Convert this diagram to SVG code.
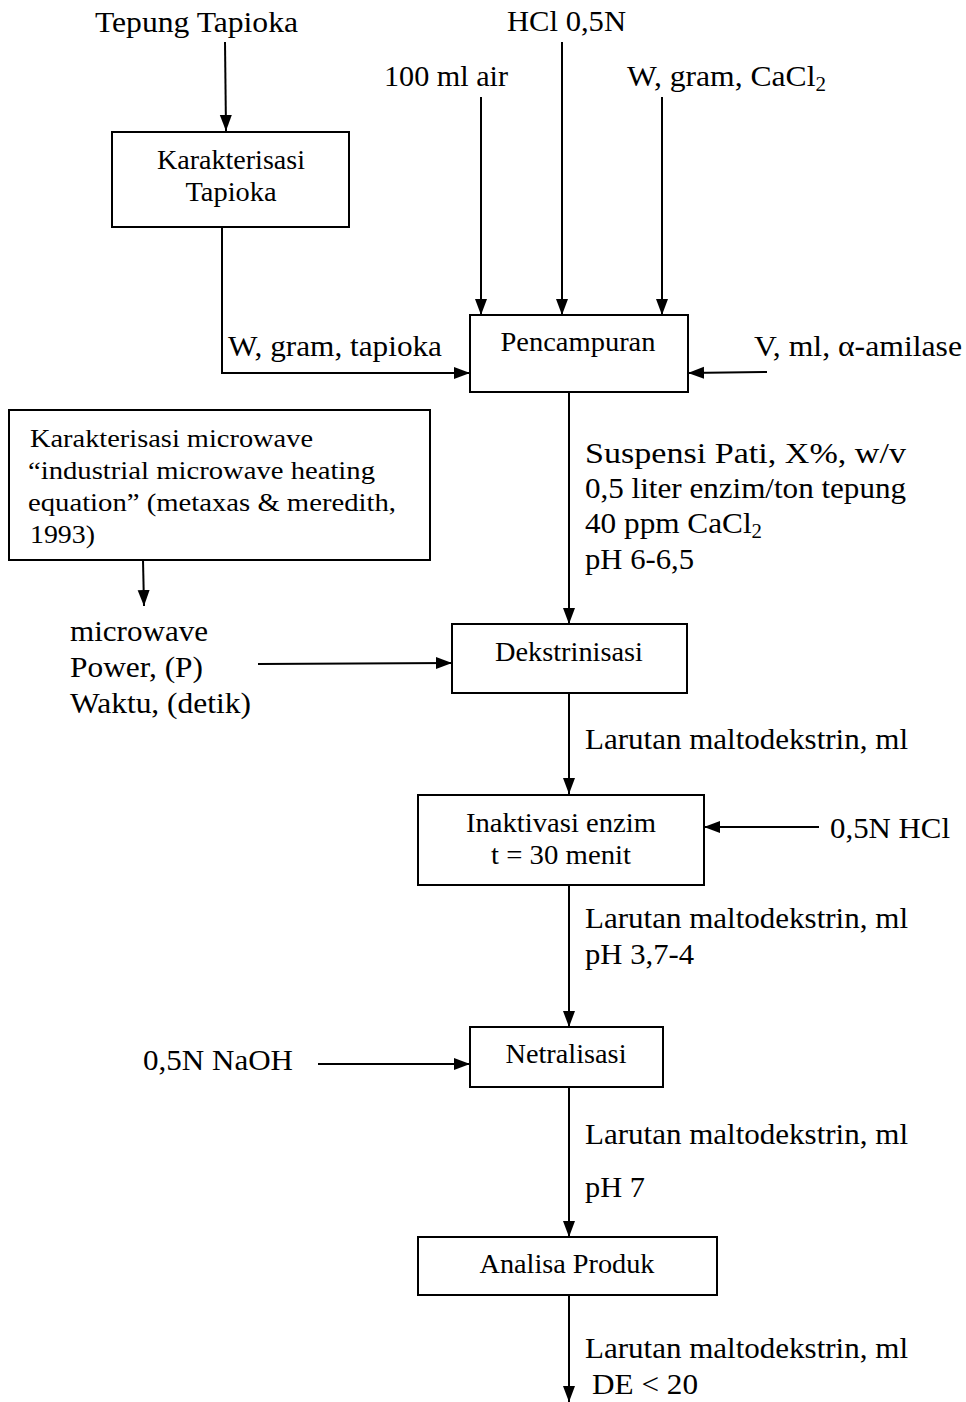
<svg xmlns="http://www.w3.org/2000/svg" width="966" height="1402" viewBox="0 0 966 1402">
<defs>
<marker id="ah" markerUnits="userSpaceOnUse" markerWidth="16" markerHeight="14" viewBox="0 0 16 14" refX="16" refY="7" orient="auto">
<path d="M0,1 L16,7 L0,13 Z" fill="#000"/>
</marker>
</defs>
<style>
text{font-family:"Liberation Serif","Times New Roman",serif;fill:#000}
.o{font-size:30px}
.b{font-size:27px}
.m{font-size:26px}
.c{text-anchor:middle}
rect{fill:#fff;stroke:#000;stroke-width:2}
.conn line,.conn polyline{stroke:#000;stroke-width:2;fill:none}
.a{marker-end:url(#ah)}
</style>
<rect x="0" y="0" width="966" height="1402" style="stroke:none"/>
<g class="conn">
<line class="a" x1="225" y1="42" x2="226" y2="131"/>
<polyline class="a" points="222,227 222,373 470,373"/>
<line class="a" x1="481" y1="97" x2="481" y2="315"/>
<line class="a" x1="562" y1="42" x2="562" y2="315"/>
<line class="a" x1="662" y1="97" x2="662" y2="315"/>
<line class="a" x1="767" y1="372" x2="688" y2="373"/>
<line class="a" x1="569" y1="392" x2="569" y2="624"/>
<line class="a" x1="143" y1="560" x2="144" y2="606"/>
<line class="a" x1="258" y1="664" x2="452" y2="663"/>
<line class="a" x1="569" y1="693" x2="569" y2="794"/>
<line class="a" x1="819" y1="827" x2="704" y2="827"/>
<line class="a" x1="569" y1="885" x2="569" y2="1027"/>
<line class="a" x1="318" y1="1064" x2="470" y2="1064"/>
<line class="a" x1="569" y1="1087" x2="569" y2="1237"/>
<line class="a" x1="569" y1="1295" x2="569" y2="1402"/>
</g>
<g id="tepung"><text class="o" x="95" y="32" textLength="203" lengthAdjust="spacingAndGlyphs">Tepung Tapioka</text></g>
<g id="hcl-top"><text class="o" x="507" y="31" textLength="119" lengthAdjust="spacingAndGlyphs">HCl 0,5N</text></g>
<g id="air"><text class="o" x="384" y="86" textLength="124" lengthAdjust="spacingAndGlyphs">100 ml air</text></g>
<g id="cacl2"><text class="o" x="627" y="86" textLength="199" lengthAdjust="spacingAndGlyphs">W, gram, CaCl<tspan font-size="20" dy="5">2</tspan></text></g>
<g id="karakterisasi-tapioka">
<rect x="112" y="132" width="237" height="95"/>
<text class="b c" x="231" y="169" textLength="148" lengthAdjust="spacingAndGlyphs">Karakterisasi</text>
<text class="b c" x="231" y="201" textLength="91" lengthAdjust="spacingAndGlyphs">Tapioka</text>
</g>
<g id="tapioka-label"><text class="o" x="228" y="356" textLength="214" lengthAdjust="spacingAndGlyphs">W, gram, tapioka</text></g>
<g id="pencampuran">
<rect x="470" y="315" width="218" height="77"/>
<text class="b c" x="578" y="351" textLength="155" lengthAdjust="spacingAndGlyphs">Pencampuran</text>
</g>
<g id="amilase"><text class="o" x="754" y="356" textLength="208" lengthAdjust="spacingAndGlyphs">V, ml, α-amilase</text></g>
<g id="suspensi">
<text class="o" x="585" y="463" textLength="321" lengthAdjust="spacingAndGlyphs">Suspensi Pati, X%, w/v</text>
<text class="o" x="585" y="498" textLength="321" lengthAdjust="spacingAndGlyphs">0,5 liter enzim/ton tepung</text>
<text class="o" x="585" y="533" textLength="177" lengthAdjust="spacingAndGlyphs">40 ppm CaCl<tspan font-size="20" dy="5">2</tspan></text>
<text class="o" x="585" y="569" textLength="109" lengthAdjust="spacingAndGlyphs">pH 6-6,5</text>
</g>
<g id="karakterisasi-microwave">
<rect x="9" y="410" width="421" height="150"/>
<text class="m" x="30" y="447" textLength="283" lengthAdjust="spacingAndGlyphs">Karakterisasi microwave</text>
<text class="m" x="28" y="479" textLength="347" lengthAdjust="spacingAndGlyphs">“industrial microwave heating</text>
<text class="m" x="28" y="511" textLength="368" lengthAdjust="spacingAndGlyphs">equation” (metaxas &amp; meredith,</text>
<text class="m" x="30" y="543" textLength="65" lengthAdjust="spacingAndGlyphs">1993)</text>
</g>
<g id="microwave-params">
<text class="o" x="70" y="641" textLength="138" lengthAdjust="spacingAndGlyphs">microwave</text>
<text class="o" x="70" y="677" textLength="133" lengthAdjust="spacingAndGlyphs">Power, (P)</text>
<text class="o" x="70" y="713" textLength="181" lengthAdjust="spacingAndGlyphs">Waktu, (detik)</text>
</g>
<g id="dekstrinisasi">
<rect x="452" y="624" width="235" height="69"/>
<text class="b c" x="569" y="661" textLength="148" lengthAdjust="spacingAndGlyphs">Dekstrinisasi</text>
</g>
<g id="label-1"><text class="o" x="585" y="749" textLength="323" lengthAdjust="spacingAndGlyphs">Larutan maltodekstrin, ml</text></g>
<g id="inaktivasi">
<rect x="418" y="795" width="286" height="90"/>
<text class="b c" x="561" y="832" textLength="190" lengthAdjust="spacingAndGlyphs">Inaktivasi enzim</text>
<text class="b c" x="561" y="864" textLength="140" lengthAdjust="spacingAndGlyphs">t = 30 menit</text>
</g>
<g id="hcl-right"><text class="o" x="830" y="838" textLength="120" lengthAdjust="spacingAndGlyphs">0,5N HCl</text></g>
<g id="label-2">
<text class="o" x="585" y="928" textLength="323" lengthAdjust="spacingAndGlyphs">Larutan maltodekstrin, ml</text>
<text class="o" x="585" y="964" textLength="109" lengthAdjust="spacingAndGlyphs">pH 3,7-4</text>
</g>
<g id="naoh"><text class="o" x="143" y="1070" textLength="150" lengthAdjust="spacingAndGlyphs">0,5N NaOH</text></g>
<g id="netralisasi">
<rect x="470" y="1027" width="193" height="60"/>
<text class="b c" x="566" y="1063" textLength="121" lengthAdjust="spacingAndGlyphs">Netralisasi</text>
</g>
<g id="label-3">
<text class="o" x="585" y="1144" textLength="323" lengthAdjust="spacingAndGlyphs">Larutan maltodekstrin, ml</text>
<text class="o" x="585" y="1197" textLength="60" lengthAdjust="spacingAndGlyphs">pH 7</text>
</g>
<g id="analisa">
<rect x="418" y="1237" width="299" height="58"/>
<text class="b c" x="567" y="1273" textLength="175" lengthAdjust="spacingAndGlyphs">Analisa Produk</text>
</g>
<g id="label-4">
<text class="o" x="585" y="1358" textLength="323" lengthAdjust="spacingAndGlyphs">Larutan maltodekstrin, ml</text>
<text class="o" x="592" y="1394" textLength="106" lengthAdjust="spacingAndGlyphs">DE &lt; 20</text>
</g>
</svg>
